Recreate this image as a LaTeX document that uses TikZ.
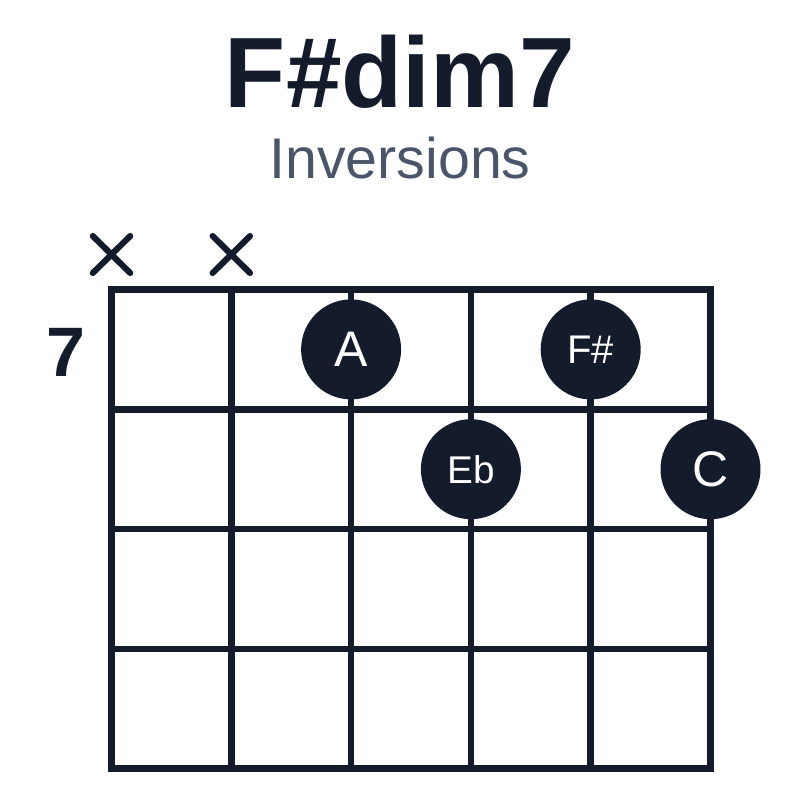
\documentclass[tikz,border=0pt]{standalone}
\usepackage{fontspec}
\setmainfont{Liberation Sans}
\usepackage{tikz}
\definecolor{inkdark}{HTML}{141B2B}
\definecolor{inkgray}{HTML}{4A5568}
\tikzset{every picture/.style={line width=4.9pt}}
\tikzset{
  fretline/.style={draw=inkdark, line width=4.9pt, line cap=rect},
  mutemark/.style={draw=inkdark, line width=4.6pt, line cap=round},
  notedot/.style={circle, fill=inkdark, text=white, minimum size=75pt, inner sep=0pt},
}

\begin{document}
\begin{tikzpicture}[x=0.75pt,y=0.75pt,yscale=-1,xscale=1]
\useasboundingbox (0,0) rectangle (800,800);
\fill[white] (0,0) rectangle (800,800);
% title
\node[anchor=base, inner sep=0pt, text=inkdark] (title) at (400,107) {\fontsize{75}{75}\selectfont\bfseries F\#dim7};
\node[anchor=base, inner sep=0pt, text=inkgray] (subtitle) at (400,178) {\fontsize{43}{43}\selectfont Inversions};
% fret number
\node[anchor=base, inner sep=0pt, text=inkdark] (fretno) at (65.5,376) {\fontsize{52.5}{52.5}\selectfont\bfseries 7};
% strings
\draw[fretline] (111.5,289.5) -- (111.5,768.7) ;
\draw[fretline] (231.3,289.5) -- (231.3,768.7) ;
\draw[fretline] (351.1,289.5) -- (351.1,768.7) ;
\draw[fretline] (470.9,289.5) -- (470.9,768.7) ;
\draw[fretline] (590.7,289.5) -- (590.7,768.7) ;
\draw[fretline] (710.5,289.5) -- (710.5,768.7) ;
% frets
\draw[fretline] (111.5,289.5) -- (710.5,289.5) ;
\draw[fretline] (111.5,409.3) -- (710.5,409.3) ;
\draw[fretline] (111.5,529.1) -- (710.5,529.1) ;
\draw[fretline] (111.5,648.9) -- (710.5,648.9) ;
\draw[fretline] (111.5,768.7) -- (710.5,768.7) ;
% muted strings
\draw[mutemark] (92.8,236) -- (130.2,273) (92.8,273) -- (130.2,236) ;
\draw[mutemark] (212.6,236) -- (250,273) (212.6,273) -- (250,236) ;
% notes
\node[notedot] (noteA) at (351.1,349.4) {\fontsize{37.5}{37.5}\selectfont A};
\node[notedot] (noteFs) at (590.7,349.4) {\fontsize{30}{30}\selectfont F\#};
\node[notedot] (noteEb) at (470.9,469.2) {\fontsize{29}{29}\selectfont Eb};
\node[notedot] (noteC) at (710.5,469.2) {\fontsize{37.5}{37.5}\selectfont C};
\end{tikzpicture}
\end{document}
